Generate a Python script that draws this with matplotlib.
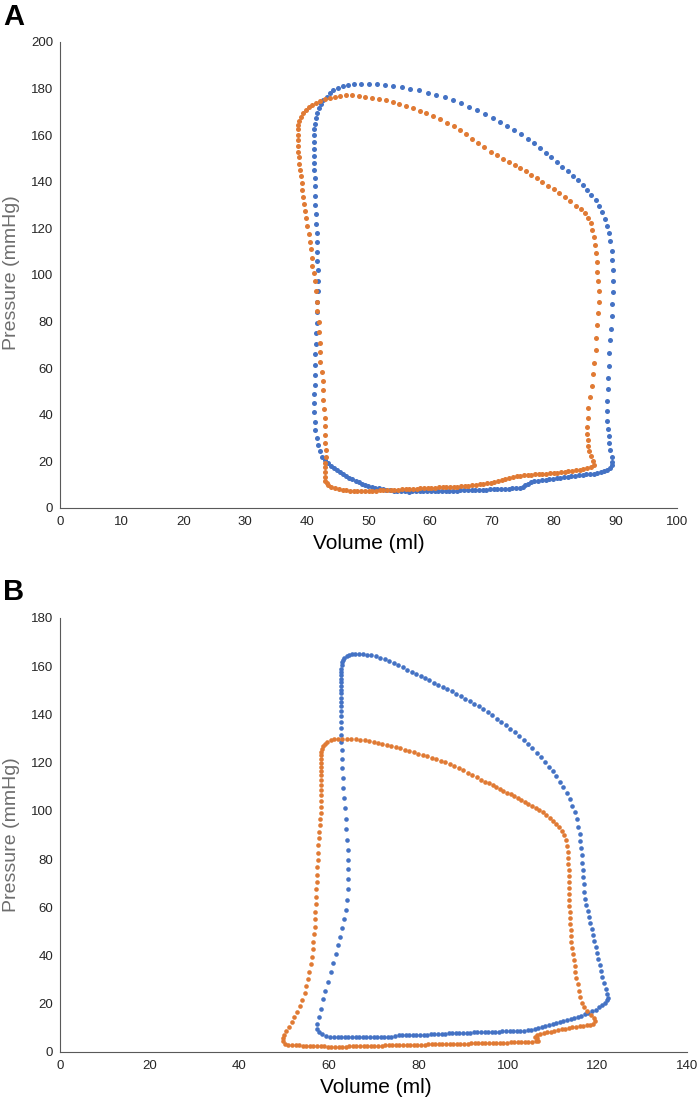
import numpy as np
import matplotlib
matplotlib.use('Agg')
import matplotlib.pyplot as plt

plt.rcParams['font.family'] = ['Liberation Sans', 'DejaVu Sans']

# ── Панел A: (обем ml, налягане mmHg) ──
a_blue = np.array([
    [89.5,19.8],[89.4,22.0],[89.2,25.0],[89.0,28.0],[88.9,31.0],[88.8,34.0],[88.7,37.5],[88.7,41.5],
    [88.7,46.0],[88.8,51.0],[88.8,56.0],[88.9,61.0],[89.0,66.5],[89.1,72.0],[89.3,77.0],[89.4,82.5],
    [89.5,87.5],[89.6,92.5],[89.6,97.5],[89.6,102.0],[89.5,106.5],[89.4,110.5],[89.2,114.5],[89.0,118.0],
    [88.7,121.0],[88.3,124.0],[87.9,127.0],[87.4,129.5],[86.8,132.0],[86.1,134.5],[85.4,136.5],[84.7,138.5],
    [83.9,140.7],[83.1,142.7],[82.3,144.5],[81.4,146.5],[80.5,148.5],[79.6,150.5],[78.7,152.5],[77.8,154.5],
    [76.8,156.5],[75.8,158.5],[74.7,160.5],[73.6,162.3],[72.5,164.0],[71.3,165.8],[70.1,167.5],[68.9,169.2],
    [67.6,170.8],[66.3,172.3],[65.0,173.8],[63.7,175.0],[62.4,176.2],[61.0,177.3],[59.6,178.3],[58.2,179.2],
    [56.8,180.0],[55.4,180.7],[54.0,181.3],[52.6,181.7],[51.3,182.0],[50.0,182.1],[48.8,182.1],[47.7,182.0],
    [46.7,181.6],[45.8,181.0],[45.0,180.2],[44.3,179.2],[43.7,178.0],[43.2,176.6],[42.7,175.0],[42.3,173.3],
    [42.0,171.5],[41.7,169.5],[41.5,167.3],[41.3,165.0],[41.2,162.5],[41.1,160.0],[41.1,157.0],[41.1,154.0],
    [41.1,151.0],[41.2,148.0],[41.2,145.0],[41.3,141.5],[41.3,138.0],[41.4,134.0],[41.4,130.0],[41.5,126.0],
    [41.5,122.0],[41.6,118.0],[41.6,114.0],[41.7,110.0],[41.7,106.0],[41.8,102.0],[41.8,97.5],[41.8,93.0],
    [41.7,88.5],[41.7,84.0],[41.6,79.5],[41.5,75.0],[41.5,70.5],[41.4,66.0],[41.4,61.5],[41.3,57.0],
    [41.3,53.0],[41.2,49.0],[41.2,45.0],[41.2,41.0],[41.3,37.0],[41.4,33.5],[41.6,30.0],[41.8,27.0],
    [42.1,24.5],[42.5,22.0],[42.9,20.5],[43.4,19.3],[43.9,18.2],[44.4,17.2],[44.9,16.2],[45.4,15.3],
    [45.9,14.5],[46.4,13.7],[46.9,13.0],[47.4,12.3],[47.9,11.7],[48.4,11.1],[48.9,10.5],[49.4,10.0],
    [49.9,9.5],[50.5,9.1],[51.1,8.7],[51.7,8.4],[52.3,8.1],[52.9,7.8],[53.5,7.6],[54.1,7.4],
    [54.7,7.3],[55.3,7.2],[55.9,7.1],[56.5,7.0],[57.1,7.1],[57.7,7.1],[58.3,7.1],[58.9,7.2],
    [59.5,7.2],[60.1,7.2],[60.7,7.3],[61.3,7.3],[61.9,7.3],[62.5,7.4],[63.1,7.4],[63.7,7.5],
    [64.3,7.5],[64.9,7.6],[65.5,7.6],[66.1,7.7],[66.7,7.7],[67.3,7.8],[67.9,7.8],[68.5,7.9],
    [69.1,7.9],[69.7,8.0],[70.3,8.0],[70.9,8.1],[71.5,8.1],[72.1,8.2],[72.7,8.3],[73.3,8.4],
    [73.9,8.5],[74.5,8.7],[75.0,9.1],[75.4,9.7],[75.8,10.4],[76.3,11.0],[76.9,11.4],[77.5,11.7],
    [78.1,12.0],[78.7,12.2],[79.3,12.4],[79.9,12.6],[80.5,12.8],[81.1,13.0],[81.7,13.2],[82.3,13.4],
    [82.9,13.6],[83.5,13.8],[84.1,14.0],[84.7,14.2],[85.3,14.4],[85.9,14.6],[86.5,14.8],[87.1,15.0],
    [87.7,15.3],[88.2,15.7],[88.7,16.3],[89.1,17.2],[89.4,18.5],
])

a_orange = np.array([
    [86.6,18.6],[86.4,20.3],[86.1,22.5],[85.8,24.5],[85.6,26.5],[85.5,29.0],[85.4,31.7],[85.4,34.6],
    [85.5,38.8],[85.6,43.1],[85.9,47.7],[86.2,52.3],[86.4,57.6],[86.6,62.3],[86.8,67.6],[86.9,73.0],
    [87.1,78.7],[87.2,83.5],[87.3,88.6],[87.3,93.0],[87.2,97.5],[87.1,101.5],[87.0,105.5],[86.9,109.5],
    [86.7,113.0],[86.5,116.5],[86.3,119.5],[86.0,122.2],[85.6,124.6],[85.1,126.6],[84.4,128.3],[83.6,129.8],
    [82.7,131.6],[81.8,133.3],[80.9,135.0],[80.0,136.8],[79.1,138.4],[78.2,140.0],[77.3,141.5],[76.4,143.0],
    [75.5,144.5],[74.6,145.8],[73.7,147.2],[72.8,148.5],[71.8,149.8],[70.8,151.3],[69.8,153.0],[68.8,154.8],
    [67.8,156.6],[66.8,158.5],[65.8,160.4],[64.8,162.2],[63.8,163.9],[62.7,165.4],[61.6,166.9],[60.5,168.2],
    [59.4,169.4],[58.3,170.5],[57.2,171.5],[56.1,172.5],[55.0,173.4],[53.9,174.2],[52.8,174.9],[51.7,175.6],
    [50.6,176.1],[49.5,176.5],[48.4,176.9],[47.3,177.1],[46.3,177.1],[45.4,176.9],[44.5,176.6],[43.7,176.1],
    [42.9,175.5],[42.2,174.8],[41.5,174.0],[40.9,173.1],[40.3,172.0],[39.8,170.8],[39.4,169.5],[39.0,168.0],
    [38.8,166.3],[38.6,164.5],[38.5,162.5],[38.5,160.3],[38.5,158.0],[38.6,155.5],[38.6,153.0],[38.7,150.5],
    [38.8,147.6],[38.9,145.0],[39.0,142.5],[39.2,139.5],[39.3,136.5],[39.4,133.5],[39.6,130.5],[39.7,127.5],
    [39.9,124.5],[40.1,121.0],[40.3,117.5],[40.5,114.0],[40.6,111.0],[40.8,107.5],[40.9,104.0],[41.1,101.0],
    [41.3,97.5],[41.5,93.0],[41.6,88.6],[41.7,84.4],[41.9,80.0],[42.0,75.5],[42.1,71.0],[42.2,67.0],
    [42.2,62.5],[42.4,58.5],[42.6,54.5],[42.7,50.5],[42.7,46.5],[42.8,42.5],[42.9,38.5],[42.9,35.0],
    [43.0,31.5],[43.0,28.0],[43.1,25.0],[43.1,22.0],[43.0,19.5],[43.0,17.5],[42.9,15.5],[42.9,13.5],
    [43.0,11.8],[43.2,10.6],[43.5,9.8],[44.0,9.0],[44.6,8.5],[45.2,8.1],[45.8,7.8],[46.4,7.6],
    [47.0,7.4],[47.6,7.3],[48.2,7.3],[48.8,7.3],[49.4,7.4],[50.0,7.4],[50.6,7.5],[51.2,7.5],
    [51.8,7.6],[52.4,7.6],[53.0,7.7],[53.6,7.8],[54.2,7.8],[54.8,7.9],[55.4,8.0],[56.0,8.1],
    [56.6,8.2],[57.2,8.2],[57.8,8.3],[58.4,8.4],[59.0,8.5],[59.6,8.5],[60.2,8.6],[60.8,8.7],
    [61.4,8.8],[62.0,8.9],[62.6,9.0],[63.2,9.0],[63.8,9.1],[64.4,9.2],[65.0,9.3],[65.6,9.4],
    [66.2,9.6],[66.8,9.7],[67.4,9.9],[68.0,10.1],[68.6,10.3],[69.2,10.6],[69.8,10.8],[70.4,11.1],
    [71.0,11.6],[71.6,12.0],[72.2,12.5],[72.8,13.0],[73.4,13.3],[74.0,13.6],[74.6,13.9],[75.2,14.0],
    [75.8,14.2],[76.4,14.3],[77.0,14.4],[77.6,14.5],[78.2,14.7],[78.8,14.8],[79.4,14.9],[80.0,15.1],
    [80.6,15.2],[81.2,15.4],[81.8,15.6],[82.4,15.8],[83.0,16.0],[83.6,16.2],[84.2,16.4],[84.8,16.7],
    [85.4,17.0],[86.0,17.5],
])

# ── Панел B ──
b_blue = np.array([
    [122.4,22.5],[122.2,24.0],[121.9,26.0],[121.5,28.5],[121.1,31.0],[120.8,33.5],[120.5,36.0],[120.2,38.5],
    [119.9,41.0],[119.6,43.5],[119.3,46.0],[119.0,48.5],[118.7,51.0],[118.4,53.5],[118.1,56.0],[117.8,58.5],
    [117.5,61.0],[117.3,63.5],[117.1,66.5],[116.9,69.5],[116.8,72.5],[116.7,75.5],[116.6,78.5],[116.5,81.5],
    [116.4,84.5],[116.2,87.5],[116.0,90.5],[115.7,93.5],[115.4,96.5],[114.9,99.5],[114.4,102.2],[113.8,104.9],
    [113.1,107.4],[112.4,109.8],[111.6,112.1],[110.8,114.3],[110.0,116.4],[109.1,118.4],[108.2,120.4],[107.3,122.3],
    [106.4,124.1],[105.5,125.9],[104.5,127.6],[103.5,129.3],[102.5,131.0],[101.5,132.6],[100.5,134.1],[99.5,135.5],
    [98.5,136.9],[97.5,138.3],[96.5,139.6],[95.5,140.9],[94.5,142.1],[93.5,143.3],[92.5,144.4],[91.5,145.5],
    [90.5,146.6],[89.5,147.6],[88.5,148.6],[87.5,149.6],[86.5,150.5],[85.5,151.4],[84.5,152.3],[83.5,153.2],
    [82.5,154.1],[81.5,155.0],[80.5,155.9],[79.5,156.8],[78.5,157.7],[77.5,158.6],[76.5,159.5],[75.5,160.4],
    [74.5,161.3],[73.5,162.2],[72.5,163.0],[71.5,163.6],[70.5,164.1],[69.5,164.5],[68.5,164.8],[67.6,164.9],
    [66.7,165.0],[65.9,165.0],[65.1,164.9],[64.5,164.6],[64.0,164.1],[63.5,163.4],[63.2,162.6],[63.0,161.6],
    [62.9,160.4],[62.8,159.0],[62.7,157.6],[62.7,156.2],[62.7,154.8],[62.7,153.4],[62.7,151.9],[62.7,150.3],
    [62.7,148.7],[62.7,147.0],[62.7,145.2],[62.7,143.4],[62.7,141.4],[62.7,139.2],[62.7,136.9],[62.7,134.4],
    [62.8,131.6],[62.8,128.5],[62.9,125.2],[62.9,121.6],[63.0,117.8],[63.1,113.8],[63.3,109.6],[63.5,105.3],
    [63.6,101.0],[63.8,96.6],[63.9,92.3],[64.1,88.0],[64.2,83.9],[64.3,79.8],[64.3,75.8],[64.3,71.7],
    [64.2,67.5],[64.1,63.2],[63.8,59.0],[63.5,55.1],[63.0,51.5],[62.6,47.8],[62.1,44.2],[61.6,40.6],
    [61.0,37.0],[60.4,33.0],[59.8,29.2],[59.2,25.5],[58.7,21.8],[58.2,18.0],[57.8,14.5],[57.4,11.5],
    [57.4,9.5],[57.8,8.2],[58.5,7.3],[59.3,6.8],[60.2,6.4],[61.1,6.2],[62.0,6.2],[62.8,6.2],
    [63.6,6.2],[64.4,6.2],[65.2,6.2],[66.0,6.2],[66.8,6.2],[67.6,6.2],[68.4,6.2],[69.2,6.2],
    [70.0,6.2],[70.8,6.2],[71.6,6.2],[72.4,6.2],[73.2,6.2],[74.0,6.4],[74.8,6.7],[75.6,6.9],
    [76.4,6.9],[77.2,7.0],[78.0,7.0],[78.8,7.0],[79.6,7.1],[80.4,7.1],[81.2,7.1],[82.0,7.2],
    [82.8,7.3],[83.6,7.4],[84.4,7.5],[85.2,7.5],[86.0,7.6],[86.8,7.7],[87.6,7.7],[88.4,7.8],
    [89.2,7.9],[90.0,7.9],[90.8,8.0],[91.6,8.0],[92.4,8.1],[93.2,8.2],[94.0,8.2],[94.8,8.3],
    [95.6,8.3],[96.4,8.4],[97.2,8.5],[98.0,8.5],[98.8,8.6],[99.6,8.6],[100.4,8.7],[101.2,8.7],
    [102.0,8.8],[102.8,8.9],[103.6,8.9],[104.4,9.0],[105.2,9.2],[106.0,9.6],[106.8,10.0],[107.6,10.4],
    [108.4,10.8],[109.2,11.2],[110.0,11.6],[110.8,12.0],[111.6,12.4],[112.4,12.8],[113.2,13.2],[114.0,13.6],
    [114.8,14.1],[115.6,14.6],[116.4,15.1],[117.2,15.7],[118.0,16.3],[118.8,16.9],[119.6,17.6],[120.4,18.5],
    [121.1,19.5],[121.7,20.5],[122.2,21.5],
])

b_orange = np.array([
    [119.5,12.8],[119.2,14.0],[118.5,15.5],[117.7,17.0],[117.0,18.5],[116.5,20.5],[116.2,23.0],[115.9,25.5],
    [115.6,28.0],[115.3,30.5],[115.1,33.0],[114.9,35.5],[114.7,38.0],[114.5,40.5],[114.4,43.0],[114.2,45.5],
    [114.1,48.0],[114.0,50.5],[113.9,53.0],[113.8,55.5],[113.8,58.0],[113.7,60.5],[113.7,63.0],[113.6,65.5],
    [113.6,68.0],[113.6,70.5],[113.6,73.0],[113.6,75.5],[113.5,78.0],[113.5,80.5],[113.4,83.0],[113.2,85.5],
    [112.9,87.8],[112.5,89.8],[112.0,91.6],[111.4,93.2],[110.8,94.6],[110.1,95.9],[109.4,97.0],[108.6,98.2],
    [107.8,99.4],[107.0,100.5],[106.2,101.4],[105.4,102.2],[104.6,103.0],[103.8,103.8],[103.0,104.6],[102.2,105.4],
    [101.4,106.1],[100.6,106.9],[99.8,107.6],[99.0,108.3],[98.2,109.1],[97.4,109.8],[96.6,110.6],[95.8,111.4],
    [95.0,112.1],[94.0,113.0],[93.0,113.9],[92.0,114.9],[91.0,115.9],[90.0,116.8],[89.0,117.7],[88.0,118.6],
    [87.0,119.4],[86.0,120.1],[85.0,120.8],[84.0,121.5],[83.0,122.1],[82.0,122.7],[81.0,123.2],[80.0,123.8],
    [79.0,124.3],[78.0,124.9],[77.0,125.4],[76.0,125.9],[75.0,126.4],[74.0,126.9],[73.0,127.4],[72.0,127.9],
    [71.0,128.3],[70.0,128.7],[69.0,129.0],[68.0,129.3],[67.0,129.6],[66.0,129.8],[65.0,129.9],[64.0,130.0],
    [63.0,130.0],[62.0,129.9],[61.2,129.7],[60.4,129.3],[59.7,128.7],[59.1,127.9],[58.7,127.0],[58.4,125.8],
    [58.3,124.5],[58.3,123.0],[58.3,121.5],[58.3,120.0],[58.3,118.3],[58.3,116.5],[58.3,114.7],[58.3,112.8],
    [58.3,110.8],[58.3,108.7],[58.3,106.5],[58.3,104.2],[58.2,101.8],[58.2,99.3],[58.1,96.7],[58.0,94.1],
    [57.9,91.4],[57.8,88.6],[57.7,85.7],[57.6,82.7],[57.5,79.7],[57.4,76.7],[57.3,73.6],[57.3,70.5],
    [57.2,67.4],[57.1,64.3],[57.1,61.2],[57.0,58.1],[57.0,55.0],[56.9,51.9],[56.8,48.8],[56.6,45.7],
    [56.4,42.6],[56.2,39.5],[56.0,36.4],[55.7,33.3],[55.4,30.3],[55.0,27.3],[54.6,24.4],[54.1,21.6],
    [53.5,19.0],[52.9,16.6],[52.3,14.4],[51.7,12.3],[51.1,10.4],[50.5,8.6],[50.0,7.0],[49.7,5.6],
    [49.8,4.4],[50.3,3.5],[51.0,3.0],[51.8,2.8],[52.6,2.7],[53.4,2.7],[54.2,2.6],[55.0,2.6],
    [55.8,2.5],[56.6,2.5],[57.4,2.4],[58.2,2.4],[59.0,2.3],[59.8,2.2],[60.6,2.2],[61.4,2.1],
    [62.2,2.1],[63.0,2.2],[63.8,2.2],[64.6,2.3],[65.4,2.3],[66.2,2.4],[67.0,2.4],[67.8,2.5],
    [68.6,2.5],[69.4,2.5],[70.2,2.6],[71.0,2.6],[71.8,2.6],[72.6,2.7],[73.4,2.7],[74.2,2.7],
    [75.0,2.8],[75.8,2.8],[76.6,2.8],[77.4,2.9],[78.2,2.9],[79.0,3.0],[79.8,3.0],[80.6,3.1],
    [81.4,3.1],[82.2,3.2],[83.0,3.2],[83.8,3.2],[84.6,3.3],[85.4,3.3],[86.2,3.3],[87.0,3.4],
    [87.8,3.4],[88.6,3.4],[89.4,3.5],[90.2,3.5],[91.0,3.5],[91.8,3.6],[92.6,3.6],[93.4,3.6],
    [94.2,3.7],[95.0,3.7],[95.8,3.7],[96.6,3.8],[97.4,3.8],[98.2,3.9],[99.0,3.9],[99.8,3.9],
    [100.6,4.0],[101.4,4.0],[102.2,4.1],[103.0,4.1],[103.8,4.2],[104.6,4.2],[105.4,4.3],[106.2,4.4],
    [106.8,4.6],[106.5,5.6],[106.0,6.4],[106.4,7.2],[107.2,7.6],[108.0,7.9],[108.8,8.2],[109.6,8.5],
    [110.4,8.8],[111.2,9.1],[112.0,9.4],[112.8,9.7],[113.6,10.0],[114.4,10.2],[115.2,10.4],[116.0,10.6],
    [116.8,10.8],[117.6,11.0],[118.4,11.2],[119.1,11.6],
])

a_xticks = list(range(0, 101, 10))
a_yticks = list(range(0, 201, 20))
b_xticks = list(range(0, 141, 20))
b_yticks = list(range(0, 181, 20))

BLUE = '#4472c4'
ORANGE = '#e07a34'

fig = plt.figure(figsize=(7.0, 10.99), dpi=100, facecolor='white')
axA = fig.add_axes([60/700, 1 - 508/1099, 617/700, 466/1099])
axB = fig.add_axes([60/700, 1 - 1052/1099, 627/700, 434/1099])

def style(ax, xlim, ylim, xt, yt):
    ax.set_xlim(*xlim)
    ax.set_ylim(*ylim)
    ax.set_xticks(xt)
    ax.set_yticks(yt)
    for s in ('top', 'right'):
        ax.spines[s].set_visible(False)
    for s in ('left', 'bottom'):
        ax.spines[s].set_color('#595959')
        ax.spines[s].set_linewidth(0.8)
    ax.tick_params(length=0, labelsize=9.5, labelcolor='#262626')
    ax.tick_params(axis='y', pad=5)
    ax.tick_params(axis='x', pad=6)
    ax.set_ylabel('Pressure (mmHg)', fontsize=14, color='#6e6e6e', va='center')
    ax.set_xlabel('Volume (ml)', fontsize=15, color='black', va='center')

style(axA, (0, 100), (0, 200), a_xticks, a_yticks)
style(axB, (0, 140), (0, 180), b_xticks, b_yticks)

axA.yaxis.set_label_coords(-0.078, 0.505)
axA.xaxis.set_label_coords(0.5, -0.076)
axB.yaxis.set_label_coords(-0.077, 0.5)
axB.xaxis.set_label_coords(0.504, -0.081)

axA.scatter(a_blue[:, 0], a_blue[:, 1], s=13, color=BLUE, lw=0, zorder=3, clip_on=False)
axA.scatter(a_orange[:, 0], a_orange[:, 1], s=13, color=ORANGE, lw=0, zorder=4, clip_on=False)
axB.scatter(b_blue[:, 0], b_blue[:, 1], s=11, color=BLUE, lw=0, zorder=3, clip_on=False)
axB.scatter(b_orange[:, 0], b_orange[:, 1], s=11, color=ORANGE, lw=0, zorder=4, clip_on=False)

fig.text(3/700, 1 - 3/1099, 'A', fontsize=21, fontweight='bold', va='top', ha='left')
fig.text(3/700, 1 - 578/1099, 'B', fontsize=21, fontweight='bold', va='top', ha='left')

fig.savefig('out.png', dpi=100, facecolor='white')
